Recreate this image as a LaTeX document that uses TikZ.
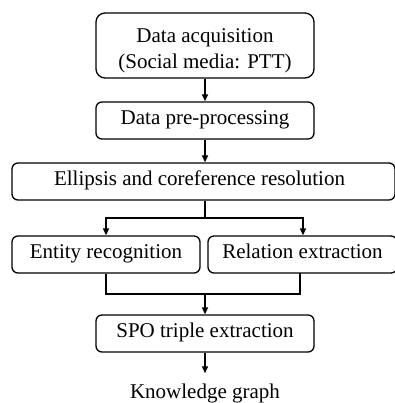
\documentclass[tikz,border=0pt]{standalone}
\usepackage{fontspec}
\setmainfont{Liberation Serif}
\usetikzlibrary{arrows.meta}
\begin{document}
\begin{tikzpicture}[x=1pt,y=-1pt,
  line width=1.3pt,
  stepbox/.style={draw, rounded corners=6pt, inner sep=0pt,
    minimum height=37pt, text height=0.72em, text depth=0pt,
    font=\fontsize{21}{26}\selectfont},
  flow/.style={-{Triangle[length=7pt,width=6pt]}},
  plain/.style={font=\fontsize{21}{26}\selectfont, inner xsep=0pt, inner ysep=9.5pt}]
\useasboundingbox (0,0) rectangle (394,403);

\node[stepbox, rounded corners=9pt, minimum width=218pt, minimum height=65pt,
      text height=19.1pt, text depth=0pt] (acq) at (205,45.5)
  {\begin{tabular}{@{}c@{}}Data acquisition\\(Social media: PTT)\end{tabular}};
\node[stepbox, minimum width=218pt] (pre) at (205,120.5) {Data pre-processing};
\node[stepbox, minimum width=383pt] (ell) at (203.5,181.5) {\hspace*{-8pt}Ellipsis and coreference resolution};
\node[stepbox, minimum width=188pt] (ent) at (106,254.5) {Entity recognition};
\node[stepbox, minimum width=189pt] (rel) at (302.5,254.5) {Relation extraction};
\node[stepbox, minimum width=218pt] (spo) at (205,333.5) {SPO triple extraction};
\node[plain, anchor=base] (kg) at (205,398) {Knowledge graph};

% split after coreference resolution
\coordinate (split) at (205,218);
\coordinate (relin) at (303,218);
% merge before triple extraction
\coordinate (merge) at (205,294);
\coordinate (relout) at (300,273);

\draw[flow] (acq.south) -- (pre.north);
\draw[flow] (pre.south) -- (pre.south |- ell.north);
\draw (ell.south -| split) -- (split);
\draw[flow] (split) -| (ent.north);
\draw[flow] (split) -- (relin) -- (relin |- rel.north);
\draw (ent.south) |- (merge) -| (relout);
\draw[flow] (merge) -- (spo.north);
\draw[flow] (spo.south) -- (kg.north);
\end{tikzpicture}
\end{document}
